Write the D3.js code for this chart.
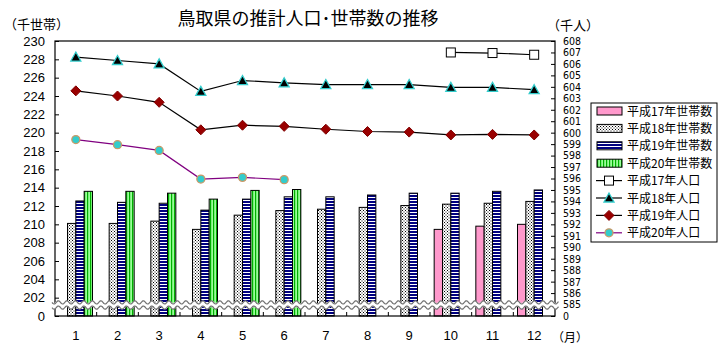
<!DOCTYPE html>
<html><head><meta charset="utf-8">
<script src="https://cdn.jsdelivr.net/npm/d3@7"></script>
<style>
html,body{margin:0;padding:0;background:#fff;}
text{font-family:"Noto Sans CJK JP","Noto Sans",sans-serif;fill:#000;}
</style></head>
<body><svg id="c" width="726" height="348"></svg>
<script>
const months = [1,2,3,4,5,6,7,8,9,10,11,12];
const leftTicks = [200,202,204,206,208,210,212,214,216,218,220,222,224,226,228,230];
const rightTicks = [584,585,586,587,588,589,590,591,592,593,594,595,596,597,598,599,600,601,602,603,604,605,606,607,608];
// households (thousand)
const hh17 = [null,null,null,null,null,null,null,null,null,209.45,209.8,210.0];
const hh18 = [210.1,210.1,210.35,209.45,211.0,211.5,211.65,211.85,212.05,212.2,212.3,212.5];
const hh19 = [212.55,212.4,212.3,211.55,212.75,213.0,213.0,213.2,213.4,213.4,213.6,213.75];
const hh20 = [213.6,213.6,213.4,212.75,213.7,213.8,null,null,null,null,null,null];
// population (thousand)
const pop17 = [null,null,null,null,null,null,null,null,null,607.0,606.95,606.8];
const pop18 = [606.6,606.3,606.0,603.6,604.55,604.35,604.2,604.2,604.2,603.95,603.95,603.75];
const pop19 = [603.65,603.2,602.65,600.25,600.65,600.55,600.3,600.1,600.05,599.8,599.85,599.8];
const pop20 = [599.4,598.95,598.45,595.95,596.1,595.9,null,null,null,null,null,null];

const barSeries = [
  {name:"平成17年世帯数", data:hh17, fill:"url(#pPink)"},
  {name:"平成18年世帯数", data:hh18, fill:"url(#pDots)"},
  {name:"平成19年世帯数", data:hh19, fill:"url(#pBlue)"},
  {name:"平成20年世帯数", data:hh20, fill:"url(#pGreen)"}
];
const lineSeries = [
  {name:"平成17年人口", data:pop17, stroke:"#000", marker:"square"},
  {name:"平成18年人口", data:pop18, stroke:"#000", marker:"triangle"},
  {name:"平成19年人口", data:pop19, stroke:"#000", marker:"diamond"},
  {name:"平成20年人口", data:pop20, stroke:"#800080", marker:"circle"}
];

const svg = d3.select("#c");
const L=55, R=555, T=41, B=316;
const defs = svg.append("defs");
// patterns
let p = defs.append("pattern").attr("id","pPink").attr("width",4).attr("height",4).attr("patternUnits","userSpaceOnUse");
p.append("rect").attr("width",4).attr("height",4).attr("fill","#FF99CC");
p = defs.append("pattern").attr("id","pDots").attr("width",3).attr("height",3).attr("patternUnits","userSpaceOnUse");
p.append("rect").attr("width",3).attr("height",3).attr("fill","#fff");
p.append("rect").attr("x",0).attr("y",0).attr("width",1).attr("height",1).attr("fill","#000");
p.append("rect").attr("x",1.5).attr("y",1.5).attr("width",1).attr("height",1).attr("fill","#000");
p = defs.append("pattern").attr("id","pBlue").attr("width",4).attr("height",3).attr("patternUnits","userSpaceOnUse");
p.append("rect").attr("width",4).attr("height",3).attr("fill","#fff");
p.append("rect").attr("width",4).attr("height",2).attr("fill","#000080");
p = defs.append("pattern").attr("id","pGreen").attr("width",3).attr("height",4).attr("patternUnits","userSpaceOnUse");
p.append("rect").attr("width",3).attr("height",4).attr("fill","#99FF99");
p.append("rect").attr("width",1.2).attr("height",4).attr("fill","#00B000");

const x0 = d3.scaleBand().domain(months).range([L,R]).paddingInner(0.2).paddingOuter(0.1);
const x1 = d3.scaleBand().domain(d3.range(4)).range([0,x0.bandwidth()]);
const xc = d3.scaleBand().domain(months).range([L,R]);
const yL = d3.scaleLinear().domain([200,230]).range([B,T]);
const yR = d3.scaleLinear().domain([584,608]).range([B,T]);

// bars
barSeries.forEach((s,i)=>{
  svg.append("g").selectAll("rect").data(months.map((m,j)=>({m,v:s.data[j]})).filter(d=>d.v!=null))
   .enter().append("rect")
   .attr("x",d=>x0(d.m)+x1(i)).attr("width",x1.bandwidth())
   .attr("y",d=>yL(d.v)).attr("height",d=>B-yL(d.v))
   .attr("fill",s.fill).attr("stroke","#000").attr("stroke-width",1);
});

// frame
svg.append("rect").attr("x",L).attr("y",T).attr("width",R-L).attr("height",B-T).attr("fill","none").attr("stroke","#000").attr("stroke-width",1.2);

// axes
const gl = svg.append("g").attr("transform",`translate(${L},0)`)
  .call(d3.axisRight(yL).tickValues(leftTicks).tickSize(4).tickFormat(d=>d===200?"0":d));
gl.select(".domain").remove();
gl.selectAll("text").attr("x",-10).attr("text-anchor","end").style("font-size","13px")
  .style("font-family","'Liberation Sans',sans-serif");
const gr = svg.append("g").attr("transform",`translate(${R},0)`)
  .call(d3.axisLeft(yR).tickValues(rightTicks).tickSize(4).tickFormat(d=>d===584?"0":d));
gr.select(".domain").remove();
gr.selectAll("text").attr("x",8).attr("text-anchor","start").style("font-size","10.5px")
  .style("font-family","'Liberation Sans Narrow','DejaVu Sans Condensed',sans-serif");
const gx = svg.append("g").attr("transform",`translate(0,${B})`)
  .call(d3.axisBottom(xc).tickSize(0).tickPadding(15));
gx.select(".domain").remove();
gx.selectAll("text").style("font-size","13px").style("font-family","'Liberation Sans',sans-serif");
// category boundary ticks (inside)
svg.append("g").selectAll("line").data(months.slice(1)).enter().append("line")
  .attr("x1",d=>xc(d)).attr("x2",d=>xc(d)).attr("y1",B).attr("y2",B-4).attr("stroke","#000");
svg.selectAll(".tick line").attr("stroke","#000");

// break wave
const wx = d3.range(52,559,0.5);
const wave = off => d3.line().x(d=>d).y(d=>305+off+1.6*Math.sin(2*Math.PI*(d-52)/8.5))(wx);
svg.append("path").attr("d",wave(0)).attr("fill","none").attr("stroke","#fff").attr("stroke-width",5);
svg.append("path").attr("d",wave(-2.6)).attr("fill","none").attr("stroke","#707070").attr("stroke-width",1.2);
svg.append("path").attr("d",wave(2.6)).attr("fill","none").attr("stroke","#707070").attr("stroke-width",1.2);

// markers
function drawMarker(g,type,cx,cy){
  if(type==="square") g.append("rect").attr("x",cx-4.5).attr("y",cy-4.5).attr("width",9).attr("height",9).attr("fill","#fff").attr("stroke","#000");
  else if(type==="triangle") g.append("path").attr("d",`M${cx},${cy-5}L${cx+5},${cy+4}L${cx-5},${cy+4}Z`).attr("fill","#000").attr("stroke","#33CCCC").attr("stroke-width",1.3);
  else if(type==="diamond") g.append("path").attr("d",`M${cx},${cy-5}L${cx+5},${cy}L${cx},${cy+5}L${cx-5},${cy}Z`).attr("fill","#990000").attr("stroke","#800000");
  else g.append("circle").attr("cx",cx).attr("cy",cy).attr("r",4).attr("fill","#33CCCC").attr("stroke","#CC9966").attr("stroke-width",1.3);
}
const cx = m => xc(m)+xc.bandwidth()/2;
lineSeries.forEach(s=>{
  const pts = months.map((m,j)=>({m,v:s.data[j]})).filter(d=>d.v!=null);
  svg.append("path").attr("d",d3.line().x(d=>cx(d.m)).y(d=>yR(d.v))(pts))
    .attr("fill","none").attr("stroke",s.stroke).attr("stroke-width",1.2);
  const g = svg.append("g");
  pts.forEach(d=>drawMarker(g,s.marker,cx(d.m),yR(d.v)));
});

// titles
svg.append("text").attr("x",308).attr("y",25).attr("text-anchor","middle").style("font-size","18px").text("鳥取県の推計人口･世帯数の推移");
svg.append("text").attr("x",4).attr("y",29).style("font-size","13px").text("（千世帯）");
svg.append("text").attr("x",547).attr("y",30).style("font-size","13px").text("（千人）");
svg.append("text").attr("x",552).attr("y",342).style("font-size","12px").text("（月）");

// legend
const lg = svg.append("g");
lg.append("rect").attr("x",591).attr("y",103).attr("width",126).attr("height",139).attr("fill","#fff").attr("stroke","#000");
function legY(i){ return 111 + i*17.4; }
barSeries.forEach((s,i)=>{
  lg.append("rect").attr("x",597).attr("y",legY(i)-4).attr("width",25).attr("height",8).attr("fill",s.fill).attr("stroke","#000");
  lg.append("text").attr("x",627).attr("y",legY(i)+4.5).style("font-size","12px").text(s.name);
});
lineSeries.forEach((s,k)=>{
  const i = k+4;
  lg.append("line").attr("x1",596).attr("x2",622).attr("y1",legY(i)).attr("y2",legY(i)).attr("stroke",s.stroke).attr("stroke-width",1.2);
  drawMarker(lg,s.marker,609,legY(i));
  lg.append("text").attr("x",627).attr("y",legY(i)+4.5).style("font-size","12px").text(s.name);
});
</script></body></html>
